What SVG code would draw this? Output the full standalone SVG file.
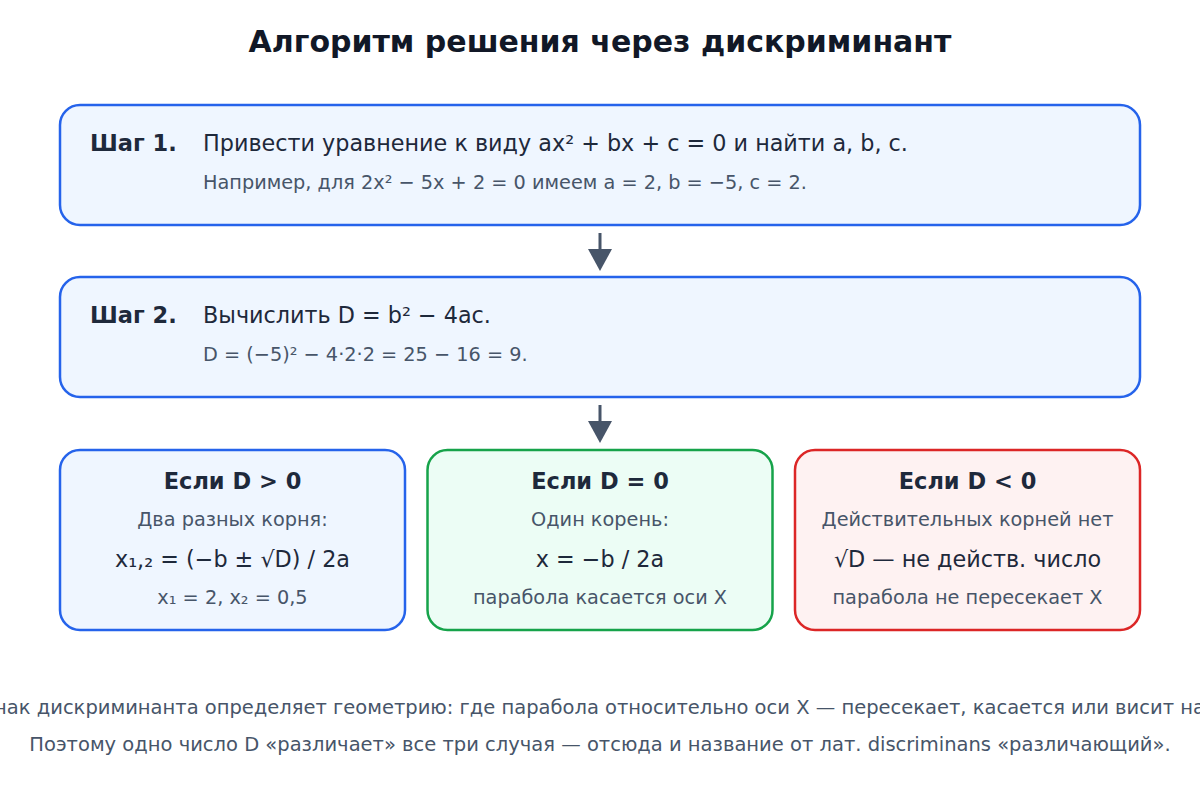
<svg xmlns="http://www.w3.org/2000/svg" width="1200" height="810" viewBox="0 0 1200 810">
<defs>
<style>
text{font-family:"DejaVu Sans","Noto Sans",sans-serif}
.title{font-size:30px;font-weight:bold;fill:#111827;text-anchor:middle}
.box{fill:#eff6ff;stroke:#2563eb;stroke-width:2.5}
.green{fill:#ecfdf5;stroke:#16a34a;stroke-width:2.5}
.red{fill:#fef2f2;stroke:#dc2626;stroke-width:2.5}
.lbl{font-size:22.5px;font-weight:bold;fill:#1e293b}
.main{font-size:22.3px;fill:#1e293b}
.sub{font-size:19.3px;fill:#475569}
.c{text-anchor:middle}
.foot{font-size:19.5px;fill:#475569;text-anchor:middle}
.conn{stroke:#475569;stroke-width:3;fill:none}
</style>
</defs>
<rect width="1200" height="810" fill="#ffffff"/>
<text class="title" x="600" y="52">Алгоритм решения через дискриминант</text>

<g id="step1">
<rect class="box" x="60" y="105" width="1080" height="120" rx="20"/>
<text class="lbl" x="90" y="151">Шаг 1.</text>
<text class="main" x="203" y="151">Привести уравнение к виду ax² + bx + c = 0 и найти a, b, c.</text>
<text class="sub" x="203" y="189">Например, для 2x² − 5x + 2 = 0 имеем a = 2, b = −5, c = 2.</text>
</g>

<g id="step2">
<rect class="box" x="60" y="277" width="1080" height="120" rx="20"/>
<text class="lbl" x="90" y="323">Шаг 2.</text>
<text class="main" x="203" y="323">Вычислить D = b² − 4ac.</text>
<text class="sub" x="203" y="361">D = (−5)² − 4·2·2 = 25 − 16 = 9.</text>
</g>

<g id="case-pos">
<rect class="box" x="60" y="450" width="345" height="180" rx="20"/>
<text class="lbl c" x="232.5" y="489">Если D &gt; 0</text>
<text class="sub c" x="232.5" y="526">Два разных корня:</text>
<text class="main c" x="232.5" y="567">x₁,₂ = (−b ± √D) / 2a</text>
<text class="sub c" x="232.5" y="604">x₁ = 2, x₂ = 0,5</text>
</g>

<g id="case-zero">
<rect class="green" x="427.5" y="450" width="345" height="180" rx="20"/>
<text class="lbl c" x="600" y="489">Если D = 0</text>
<text class="sub c" x="600" y="526">Один корень:</text>
<text class="main c" x="600" y="567">x = −b / 2a</text>
<text class="sub c" x="600" y="604">парабола касается оси X</text>
</g>

<g id="case-neg">
<rect class="red" x="795" y="450" width="345" height="180" rx="20"/>
<text class="lbl c" x="967.5" y="489">Если D &lt; 0</text>
<text class="sub c" x="967.5" y="526">Действительных корней нет</text>
<text class="main c" x="967.5" y="567">√D — не действ. число</text>
<text class="sub c" x="967.5" y="604">парабола не пересекает X</text>
</g>

<g id="connectors">
<line class="conn" x1="600" y1="233" x2="600" y2="250"/>
<path d="M588,249 L612,249 L600,271 Z" fill="#475569"/>
<line class="conn" x1="600" y1="405" x2="600" y2="422"/>
<path d="M588,421 L612,421 L600,443 Z" fill="#475569"/>
</g>

<text class="foot" x="600" y="714">Знак дискриминанта определяет геометрию: где парабола относительно оси X — пересекает, касается или висит над</text>
<text class="foot" x="600" y="751">Поэтому одно число D «различает» все три случая — отсюда и название от лат. discriminans «различающий».</text>
</svg>
